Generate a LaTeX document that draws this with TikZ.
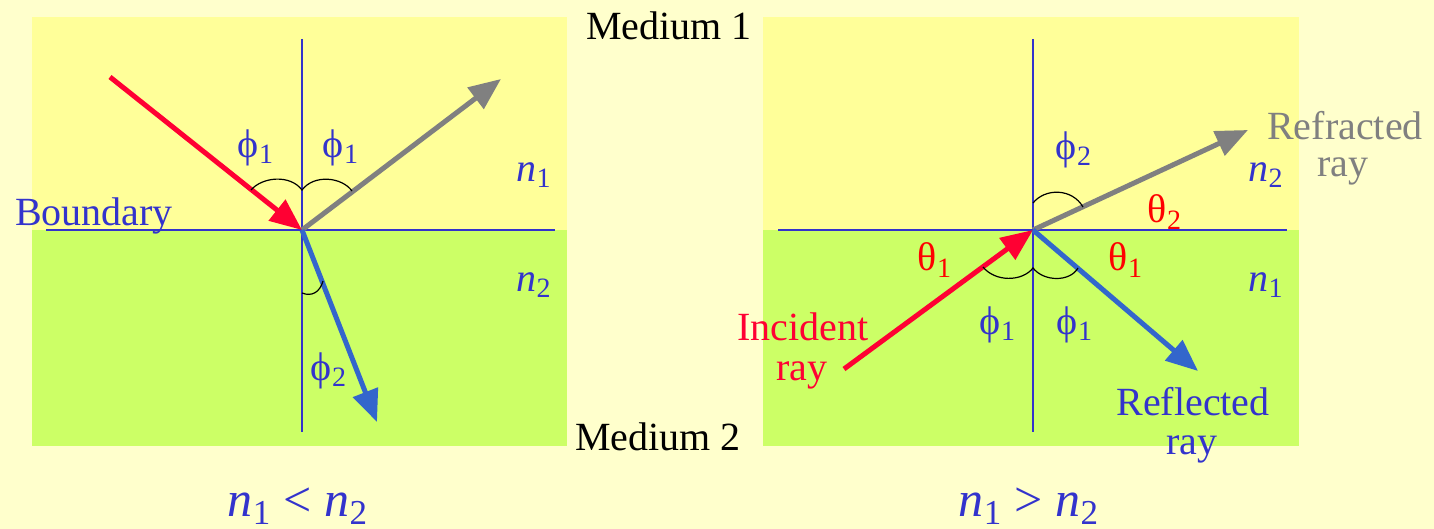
\documentclass[tikz,border=0pt]{standalone}
\usepackage{fontspec}
\setmainfont{Liberation Serif}
\usetikzlibrary{arrows.meta}
\definecolor{bgpale}{RGB}{255,255,204}
\definecolor{upperfill}{RGB}{255,255,153}
\definecolor{lowerfill}{RGB}{204,255,102}
\definecolor{rayred}{RGB}{255,0,51}
\definecolor{raygray}{RGB}{128,128,128}
\definecolor{rayblue}{RGB}{51,102,204}
\definecolor{txtblue}{RGB}{51,51,204}
\definecolor{txtred}{RGB}{255,0,0}
\tikzset{
  ray/.style={line width=2.5pt,-{Triangle[length=16pt,width=13pt]}},
  axisline/.style={txtblue,line width=0.9pt},
  anglemark/.style={black,line width=0.6pt},
  lbl/.style={font=\fontsize{20}{18}\selectfont,inner sep=0pt,align=center},
  biglbl/.style={font=\fontsize{25}{25}\selectfont,inner sep=0pt,txtblue}
}
\newcommand{\ph}[1]{ϕ\textsubscript{#1}}
\newcommand{\thsub}[1]{θ\textsubscript{#1}}
\newcommand{\nidx}[1]{\textit{n}\textsubscript{#1}}
\begin{document}
\begin{tikzpicture}[x=0.5pt,y=-0.5pt]
\fill[bgpale] (0,0) rectangle (1434,529);
\useasboundingbox (0,0) rectangle (1434,529);
\fill[upperfill] (32,17) rectangle (567,230);
\fill[lowerfill] (32,230) rectangle (567,446);
\fill[upperfill] (763,17) rectangle (1299,230);
\fill[lowerfill] (763,230) rectangle (1299,446);

\coordinate (o1) at (302,230);
\coordinate (top1) at (302,39);
\coordinate (bot1) at (302,432);
\coordinate (lft1) at (46,230);
\coordinate (rgt1) at (555,230);
\coordinate (inc1) at (110,77);
\coordinate (rfl1) at (501,79);
\coordinate (rfr1) at (377,422);
\draw[axisline] (top1) -- (bot1);
\draw[axisline] (lft1) -- (rgt1);
\draw[ray,rayred] (inc1) -- (o1);
\draw[ray,raygray] (o1) -- (rfl1);
\draw[ray,rayblue] (o1) -- (rfr1);
\draw[anglemark] (251,190) .. controls (262,177) and (290,174) .. (302,190)
      .. controls (314,174) and (342,177) .. (352,191);
\draw[anglemark] (302,293) .. controls (312,297) and (320,292) .. (323,281);

\node[lbl,txtblue,anchor=base] (bnd) at (94,226) {Boundary};
\node[lbl,txtblue] (phiA) at (256,148) {\ph{1}};
\node[lbl,txtblue] (phiB) at (341,148) {\ph{1}};
\node[lbl,txtblue] (phiC) at (329,371) {\ph{2}};
\node[lbl,txtblue] (nA) at (534,175) {\nidx{1}};
\node[lbl,txtblue] (nB) at (534,285) {\nidx{2}};
\node[biglbl] (cmpA) at (298,506) {\nidx{1} < \nidx{2}};

\node[lbl,anchor=base] (med1) at (669,40) {Medium 1};
\node[lbl,anchor=base] (med2) at (658,450) {Medium 2};

\coordinate (o2) at (1033,230);
\coordinate (top2) at (1033,39);
\coordinate (bot2) at (1033,432);
\coordinate (lft2) at (778,230);
\coordinate (rgt2) at (1287,230);
\coordinate (inc2) at (844,369);
\coordinate (rfr2) at (1248,130);
\coordinate (rfl2) at (1198,371);
\draw[axisline] (top2) -- (bot2);
\draw[axisline] (lft2) -- (rgt2);
\draw[ray,rayred] (inc2) -- (o2);
\draw[ray,raygray] (o2) -- (rfr2);
\draw[ray,rayblue] (o2) -- (rfl2);
\draw[anglemark] (1033,203) .. controls (1045,188) and (1072,188) .. (1083,207);
\draw[anglemark] (983,267) .. controls (995,282) and (1022,282) .. (1033,268)
      .. controls (1044,282) and (1070,282) .. (1078,268);

\node[lbl,txtblue] (phiD) at (1074,150) {\ph{2}};
\node[lbl,txtred] (thA) at (1165,212) {\thsub{2}};
\node[lbl,txtred] (thB) at (935,260) {\thsub{1}};
\node[lbl,txtred] (thC) at (1126,260) {\thsub{1}};
\node[lbl,txtblue] (phiE) at (998,325) {\ph{1}};
\node[lbl,txtblue] (phiF) at (1075,325) {\ph{1}};
\node[lbl,txtblue] (nC) at (1266,175) {\nidx{2}};
\node[lbl,txtblue] (nD) at (1266,285) {\nidx{1}};
\node[lbl,raygray,anchor=base] (rfrA) at (1345,140) {Refracted};
\node[lbl,raygray,anchor=base] (rfrB) at (1343,177) {ray};
\node[lbl,rayred,anchor=base] (incA) at (803,340) {Incident};
\node[lbl,rayred,anchor=base] (incB) at (802,380) {ray};
\node[lbl,txtblue,anchor=base] (rflA) at (1193,415) {Reflected};
\node[lbl,txtblue,anchor=base] (rflB) at (1192,454) {ray};
\node[biglbl] (cmpB) at (1029,506) {\nidx{1} > \nidx{2}};
\end{tikzpicture}
\end{document}
